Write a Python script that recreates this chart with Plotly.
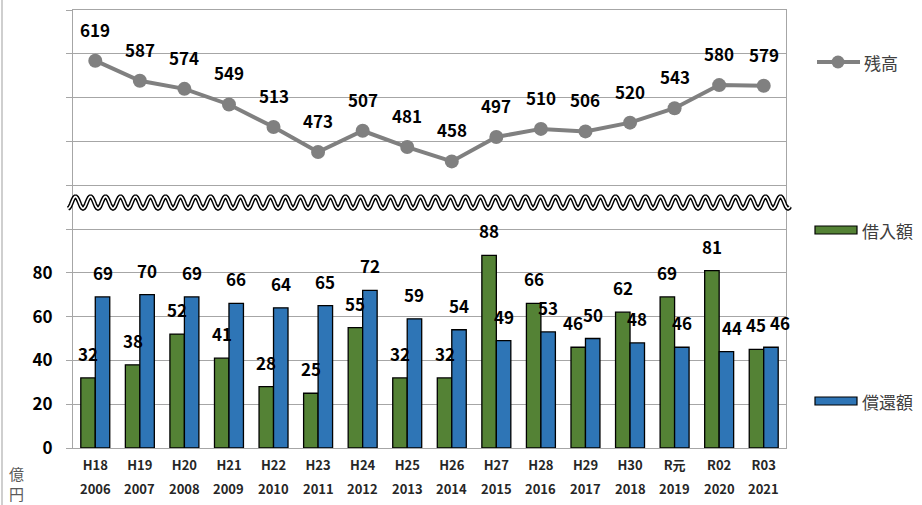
import numpy as np
import plotly.graph_objects as go

# ---- data ----
era_labels = ["H18", "H19", "H20", "H21", "H22", "H23", "H24", "H25", "H26",
              "H27", "H28", "H29", "H30", "R元", "R02", "R03"]
year_labels = ["2006", "2007", "2008", "2009", "2010", "2011", "2012", "2013",
               "2014", "2015", "2016", "2017", "2018", "2019", "2020", "2021"]
zandaka = [619, 587, 574, 549, 513, 473, 507, 481, 458, 497, 510, 506, 520, 543, 580, 579]
kariire = [32, 38, 52, 41, 28, 25, 55, 32, 32, 88, 66, 46, 62, 69, 81, 45]
shokan = [69, 70, 69, 66, 64, 65, 72, 59, 54, 49, 53, 50, 48, 46, 44, 46]
y_tick_vals = [0, 20, 40, 60, 80, 100, 120, 140, 160, 180, 200]
y_tick_text = ["0", "20", "40", "60", "80", "", "", "", "", "", ""]

# ---- styling ----
W, H = 922, 505
L, R, T, B = 73, 136, 10, 57
PW, PH = W - L - R, H - T - B
FONT = "Noto Sans CJK JP"
GREEN = "#548235"
BLUE = "#2E75B6"
GRAY = "#808080"
GRID = "#a6a6a6"
BW = 0.325
# small horizontal nudges (px) of crowded value labels, as in the original
nudge_k = {11: -5}
nudge_s = {14: 6, 15: 9}


def fx(px):
    return (px - L) / PW


def fy(py):
    return (H - B - py) / PH


xpos = list(range(len(era_labels)))

fig = go.Figure()
fig.add_trace(go.Bar(
    x=xpos, y=kariire, name="借入額", offset=-BW, width=BW,
    marker=dict(color=GREEN, line=dict(color="#000000", width=1.3)),
    showlegend=False))
fig.add_trace(go.Bar(
    x=xpos, y=shokan, name="償還額", offset=0, width=BW,
    marker=dict(color=BLUE, line=dict(color="#000000", width=1.3)),
    showlegend=False))
fig.add_trace(go.Scatter(
    x=xpos, y=zandaka, name="残高", yaxis="y2", mode="lines+markers",
    line=dict(color=GRAY, width=4), marker=dict(color=GRAY, size=14),
    showlegend=False))

annotations = []
lab_font = dict(family=FONT, size=17, color="#000000")
for i, v in enumerate(zandaka):
    annotations.append(dict(x=i, y=v, xref="x", yref="y2", text=f"<b>{v}</b>",
                            showarrow=False, xanchor="center", yanchor="bottom",
                            yshift=17, font=lab_font))
for i, v in enumerate(kariire):
    annotations.append(dict(x=i - BW / 2, y=v, xref="x", yref="y", text=f"<b>{v}</b>",
                            showarrow=False, xanchor="center", yanchor="bottom",
                            yshift=10, xshift=nudge_k.get(i, 0), font=lab_font))
for i, v in enumerate(shokan):
    annotations.append(dict(x=i + BW / 2, y=v, xref="x", yref="y", text=f"<b>{v}</b>",
                            showarrow=False, xanchor="center", yanchor="bottom",
                            yshift=10, xshift=nudge_s.get(i, 0), font=lab_font))
for i, yl in enumerate(year_labels):
    annotations.append(dict(x=i, y=fy(488), xref="x", yref="paper", text=f"<b>{yl}</b>",
                            showarrow=False, xanchor="center", yanchor="middle",
                            font=dict(family=FONT, size=13, color="#262626")))
# unit label
annotations.append(dict(x=fx(16), y=fy(484), xref="paper", yref="paper", text="億<br>円",
                        showarrow=False, xanchor="center", yanchor="middle",
                        font=dict(family=FONT, size=15, color="#595959")))

# custom legend
leg_font = dict(family=FONT, size=17, color="#404040")
shapes = []
shapes.append(dict(type="line", xref="paper", yref="paper", x0=fx(817), x1=fx(860),
                   y0=fy(62), y1=fy(62), line=dict(color=GRAY, width=4)))
shapes.append(dict(type="circle", xref="paper", yref="paper", x0=fx(831.5), x1=fx(844.5),
                   y0=fy(68.5), y1=fy(55.5), fillcolor=GRAY, line=dict(color=GRAY, width=0)))
annotations.append(dict(x=fx(862), y=fy(62), xref="paper", yref="paper", text="残高",
                        xanchor="left", yanchor="middle", showarrow=False, font=leg_font))
for (ytop, col, name) in [(226, GREEN, "借入額"), (397, BLUE, "償還額")]:
    shapes.append(dict(type="rect", xref="paper", yref="paper", x0=fx(815), x1=fx(857),
                       y0=fy(ytop + 8), y1=fy(ytop), fillcolor=col,
                       line=dict(color="#000000", width=1.2)))
    annotations.append(dict(x=fx(860), y=fy(ytop + 4), xref="paper", yref="paper", text=name,
                            xanchor="left", yanchor="middle", showarrow=False, font=leg_font))

# axis break wave (double line)
xs = np.arange(68, 791, 1.0)
ys = 202.5 + 6.0 * np.cos(2 * np.pi * (xs - 68) / 15.0)
path = "M " + " L ".join(f"{fx(a):.5f},{fy(b):.5f}" for a, b in zip(xs, ys))
shapes.append(dict(type="path", xref="paper", yref="paper", path=path,
                   line=dict(color="#000000", width=4.5), layer="above"))
shapes.append(dict(type="path", xref="paper", yref="paper", path=path,
                   line=dict(color="#ffffff", width=1.6), layer="above"))

# left border line of the original frame
shapes.append(dict(type="line", xref="paper", yref="paper", x0=fx(2), x1=fx(2),
                   y0=fy(505), y1=fy(0), line=dict(color="#bfbfbf", width=1.5)))

fig.update_layout(
    width=W, height=H, autosize=False,
    margin=dict(l=L, r=R, t=T, b=B, pad=0),
    paper_bgcolor="#ffffff", plot_bgcolor="#ffffff",
    barmode="overlay",
    showlegend=False,
    font=dict(family=FONT),
    xaxis=dict(range=[-0.5, len(era_labels) - 0.5], tickmode="array", tickvals=xpos,
               ticktext=[f"<b>{e}</b>" for e in era_labels], ticks="",
               ticklabelstandoff=5,
               showgrid=False, showline=True, linecolor=GRID, linewidth=1, mirror=True,
               tickfont=dict(family=FONT, size=13, color="#262626"), zeroline=False),
    yaxis=dict(range=[0, 200], tickmode="array", tickvals=y_tick_vals,
               ticktext=[f"<b>{t}</b>" if t else "" for t in y_tick_text],
               ticks="outside", ticklen=6, tickcolor=GRID,
               ticklabelstandoff=10,
               showgrid=True, gridcolor=GRID, gridwidth=1,
               showline=True, linecolor=GRID, linewidth=1, mirror=True, zeroline=False,
               tickfont=dict(family=FONT, size=17, color="#000000")),
    yaxis2=dict(range=[0, 700], overlaying="y", visible=False, showgrid=False),
    annotations=annotations,
    shapes=shapes,
)

fig.write_html("out.html", config={"displayModeBar": False},
               post_script="document.body.style.margin='0';document.body.style.overflow='hidden';")
